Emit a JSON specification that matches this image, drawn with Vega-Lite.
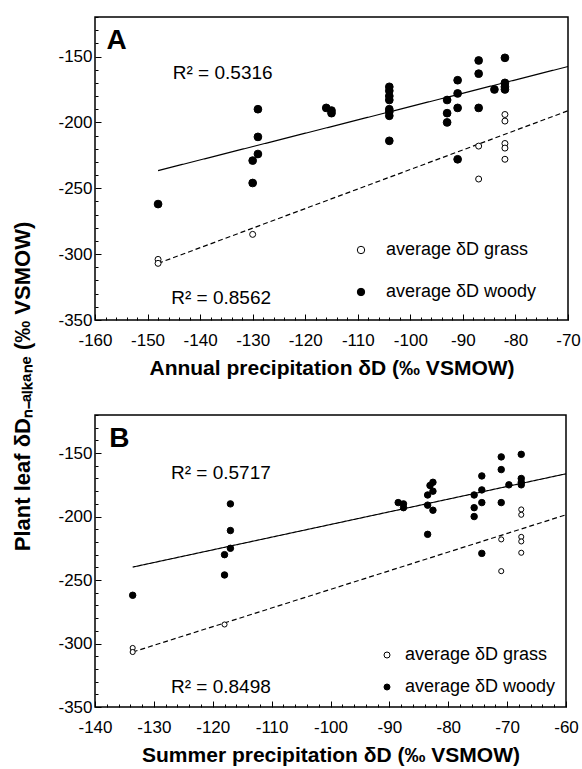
{
  "$schema": "https://vega.github.io/schema/vega-lite/v6.json",
  "padding": {"left": 12, "top": 7, "right": 4, "bottom": 2},
  "title": {"text": "Plant leaf δDₙ₋ₐₗₖₐₙₑ (‰ VSMOW)", "orient": "left", "anchor": "middle", "font": "Liberation Sans", "fontSize": 22, "fontWeight": "bold", "color": "black", "offset": 22},
  "datasets": {
    "points": [
      {"panel": "A", "type": "average δD woody", "x": -148, "y": -262},
      {"panel": "A", "type": "average δD woody", "x": -129, "y": -190},
      {"panel": "A", "type": "average δD woody", "x": -129, "y": -211},
      {"panel": "A", "type": "average δD woody", "x": -129, "y": -224},
      {"panel": "A", "type": "average δD woody", "x": -130, "y": -229},
      {"panel": "A", "type": "average δD woody", "x": -130, "y": -246},
      {"panel": "A", "type": "average δD woody", "x": -116, "y": -189},
      {"panel": "A", "type": "average δD woody", "x": -115, "y": -191},
      {"panel": "A", "type": "average δD woody", "x": -115, "y": -193},
      {"panel": "A", "type": "average δD woody", "x": -104, "y": -173},
      {"panel": "A", "type": "average δD woody", "x": -104, "y": -176},
      {"panel": "A", "type": "average δD woody", "x": -104, "y": -180},
      {"panel": "A", "type": "average δD woody", "x": -104, "y": -183},
      {"panel": "A", "type": "average δD woody", "x": -104, "y": -190},
      {"panel": "A", "type": "average δD woody", "x": -104, "y": -192},
      {"panel": "A", "type": "average δD woody", "x": -104, "y": -195},
      {"panel": "A", "type": "average δD woody", "x": -104, "y": -214},
      {"panel": "A", "type": "average δD woody", "x": -93, "y": -183},
      {"panel": "A", "type": "average δD woody", "x": -93, "y": -193},
      {"panel": "A", "type": "average δD woody", "x": -93, "y": -200},
      {"panel": "A", "type": "average δD woody", "x": -91, "y": -168},
      {"panel": "A", "type": "average δD woody", "x": -91, "y": -178},
      {"panel": "A", "type": "average δD woody", "x": -91, "y": -189},
      {"panel": "A", "type": "average δD woody", "x": -91, "y": -228},
      {"panel": "A", "type": "average δD woody", "x": -87, "y": -153},
      {"panel": "A", "type": "average δD woody", "x": -87, "y": -163},
      {"panel": "A", "type": "average δD woody", "x": -87, "y": -189},
      {"panel": "A", "type": "average δD woody", "x": -84, "y": -175},
      {"panel": "A", "type": "average δD woody", "x": -82, "y": -151},
      {"panel": "A", "type": "average δD woody", "x": -82, "y": -170},
      {"panel": "A", "type": "average δD woody", "x": -82, "y": -173},
      {"panel": "A", "type": "average δD woody", "x": -82, "y": -175},
      {"panel": "A", "type": "average δD grass", "x": -148, "y": -304},
      {"panel": "A", "type": "average δD grass", "x": -148, "y": -307},
      {"panel": "A", "type": "average δD grass", "x": -130, "y": -285},
      {"panel": "A", "type": "average δD grass", "x": -87, "y": -218},
      {"panel": "A", "type": "average δD grass", "x": -87, "y": -243},
      {"panel": "A", "type": "average δD grass", "x": -82, "y": -194},
      {"panel": "A", "type": "average δD grass", "x": -82, "y": -199},
      {"panel": "A", "type": "average δD grass", "x": -82, "y": -216},
      {"panel": "A", "type": "average δD grass", "x": -82, "y": -219.5},
      {"panel": "A", "type": "average δD grass", "x": -82, "y": -228},
      {"panel": "B", "type": "average δD woody", "x": -133.6, "y": -262},
      {"panel": "B", "type": "average δD woody", "x": -117, "y": -190},
      {"panel": "B", "type": "average δD woody", "x": -117, "y": -211},
      {"panel": "B", "type": "average δD woody", "x": -117, "y": -225},
      {"panel": "B", "type": "average δD woody", "x": -118, "y": -230},
      {"panel": "B", "type": "average δD woody", "x": -118, "y": -246},
      {"panel": "B", "type": "average δD woody", "x": -88.5, "y": -189},
      {"panel": "B", "type": "average δD woody", "x": -87.6, "y": -190},
      {"panel": "B", "type": "average δD woody", "x": -87.6, "y": -193},
      {"panel": "B", "type": "average δD woody", "x": -83.5, "y": -183},
      {"panel": "B", "type": "average δD woody", "x": -83.5, "y": -191},
      {"panel": "B", "type": "average δD woody", "x": -83.5, "y": -214},
      {"panel": "B", "type": "average δD woody", "x": -83.1, "y": -175.5},
      {"panel": "B", "type": "average δD woody", "x": -82.6, "y": -173},
      {"panel": "B", "type": "average δD woody", "x": -82.6, "y": -180},
      {"panel": "B", "type": "average δD woody", "x": -82.6, "y": -195},
      {"panel": "B", "type": "average δD woody", "x": -75.6, "y": -183},
      {"panel": "B", "type": "average δD woody", "x": -75.6, "y": -193},
      {"panel": "B", "type": "average δD woody", "x": -75.6, "y": -200},
      {"panel": "B", "type": "average δD woody", "x": -74.3, "y": -168},
      {"panel": "B", "type": "average δD woody", "x": -74.3, "y": -179},
      {"panel": "B", "type": "average δD woody", "x": -74.3, "y": -189},
      {"panel": "B", "type": "average δD woody", "x": -74.3, "y": -229},
      {"panel": "B", "type": "average δD woody", "x": -71, "y": -153},
      {"panel": "B", "type": "average δD woody", "x": -71, "y": -163},
      {"panel": "B", "type": "average δD woody", "x": -71, "y": -189},
      {"panel": "B", "type": "average δD woody", "x": -69.7, "y": -175},
      {"panel": "B", "type": "average δD woody", "x": -67.6, "y": -151},
      {"panel": "B", "type": "average δD woody", "x": -67.6, "y": -170},
      {"panel": "B", "type": "average δD woody", "x": -67.6, "y": -173},
      {"panel": "B", "type": "average δD woody", "x": -67.6, "y": -175},
      {"panel": "B", "type": "average δD grass", "x": -133.6, "y": -303.5},
      {"panel": "B", "type": "average δD grass", "x": -133.6, "y": -306.7},
      {"panel": "B", "type": "average δD grass", "x": -118, "y": -285},
      {"panel": "B", "type": "average δD grass", "x": -71, "y": -218},
      {"panel": "B", "type": "average δD grass", "x": -71, "y": -243},
      {"panel": "B", "type": "average δD grass", "x": -67.6, "y": -194.4},
      {"panel": "B", "type": "average δD grass", "x": -67.6, "y": -198.6},
      {"panel": "B", "type": "average δD grass", "x": -67.6, "y": -216},
      {"panel": "B", "type": "average δD grass", "x": -67.6, "y": -219.6},
      {"panel": "B", "type": "average δD grass", "x": -67.6, "y": -228.5}
    ],
    "lines": [
      {"panel": "A", "kind": "woody", "x": -148, "y": -236.6},
      {"panel": "A", "kind": "woody", "x": -70, "y": -157.6},
      {"panel": "A", "kind": "grass", "x": -148, "y": -307},
      {"panel": "A", "kind": "grass", "x": -70, "y": -191.2},
      {"panel": "B", "kind": "woody", "x": -133.6, "y": -239.8},
      {"panel": "B", "kind": "woody", "x": -60, "y": -166.3},
      {"panel": "B", "kind": "grass", "x": -133.6, "y": -306.7},
      {"panel": "B", "kind": "grass", "x": -60, "y": -198.6}
    ],
    "labels": [
      {"panel": "A", "kind": "letter", "label": "A", "x": -157.8, "y": -138.4},
      {"panel": "A", "kind": "r2", "label": "R² = 0.5316", "x": -145.2, "y": -162.6},
      {"panel": "A", "kind": "r2", "label": "R² = 0.8562", "x": -145.5, "y": -333.3},
      {"panel": "B", "kind": "letter", "label": "B", "x": -137.6, "y": -139},
      {"panel": "B", "kind": "r2", "label": "R² = 0.5717", "x": -127.1, "y": -165.7},
      {"panel": "B", "kind": "r2", "label": "R² = 0.8498", "x": -127.1, "y": -334}
    ]
  },
  "vconcat": [
    {
      "width": 473,
      "height": 303,
      "encoding": {
        "x": {"field": "x", "type": "quantitative", "scale": {"domain": [-160, -70], "nice": false, "zero": false},
          "axis": {"title": "Annual precipitation δD (‰ VSMOW)", "values": [-160,-158,-156,-154,-152,-150,-148,-146,-144,-142,-140,-138,-136,-134,-132,-130,-128,-126,-124,-122,-120,-118,-116,-114,-112,-110,-108,-106,-104,-102,-100,-98,-96,-94,-92,-90,-88,-86,-84,-82,-80,-78,-76,-74,-72,-70],
            "labelExpr": "datum.value % 10 === 0 ? toString(datum.value) : ''", "tickSize": {"expr": "datum.value % 10 === 0 ? -6 : -3"}, "labelPadding": 18, "labelOverlap": false, "labelFlush": false, "labelBound": false}},
        "y": {"field": "y", "type": "quantitative", "scale": {"domain": [-350, -120], "nice": false, "zero": false},
          "axis": {"title": null, "values": [-350,-340,-330,-320,-310,-300,-290,-280,-270,-260,-250,-240,-230,-220,-210,-200,-190,-180,-170,-160,-150,-140,-130,-120],
            "labelExpr": "datum.value % 50 === 0 ? toString(datum.value) : ''", "tickSize": {"expr": "datum.value % 50 === 0 ? -6 : -3"}, "labelPadding": 9, "labelOverlap": false, "labelFlush": false, "labelBound": false}}
      },
      "layer": [
        {
          "data": {"name": "lines"},
          "transform": [{"filter": "datum.panel === 'A'"}],
          "mark": {"type": "line", "color": "black", "strokeWidth": 1.2},
          "encoding": {
            "detail": {"field": "kind", "type": "nominal"},
            "strokeDash": {"field": "kind", "type": "nominal", "scale": {"domain": ["grass", "woody"], "range": [[5, 3], [1, 0]]}, "legend": null}
          }
        },
        {
          "data": {"name": "points"},
          "transform": [{"filter": "datum.panel === 'A'"}],
          "mark": {"type": "circle", "stroke": "black", "strokeWidth": 1, "opacity": 1},
          "encoding": {
            "fill": {"field": "type", "type": "nominal", "scale": {"domain": ["average δD grass", "average δD woody"], "range": ["white", "black"]},
              "legend": {"orient": "none", "legendX": 257, "legendY": 224, "title": null, "labelFont": "Liberation Sans", "labelFontSize": 18, "labelColor": "black", "symbolType": "circle", "symbolSize": 55, "symbolStrokeColor": "black", "symbolStrokeWidth": 1, "rowPadding": 24, "labelOffset": 16}},
            "size": {"condition": {"test": "datum.type === 'average δD woody'", "value": 60}, "value": 36}
          }
        },
        {
          "data": {"name": "labels"},
          "transform": [{"filter": "datum.panel === 'A' && datum.kind === 'r2'"}],
          "mark": {"type": "text", "align": "left", "baseline": "middle", "font": "Liberation Sans", "fontSize": 19, "color": "black"},
          "encoding": {"text": {"field": "label", "type": "nominal"}}
        },
        {
          "data": {"name": "labels"},
          "transform": [{"filter": "datum.panel === 'A' && datum.kind === 'letter'"}],
          "mark": {"type": "text", "align": "left", "baseline": "middle", "font": "Liberation Sans", "fontSize": 28, "fontWeight": "bold", "color": "black"},
          "encoding": {"text": {"field": "label", "type": "nominal"}}
        }
      ]
    },
    {
      "width": 471,
      "height": 292,
      "encoding": {
        "x": {"field": "x", "type": "quantitative", "scale": {"domain": [-140, -60], "nice": false, "zero": false},
          "axis": {"title": "Summer precipitation δD (‰ VSMOW)", "values": [-140,-138,-136,-134,-132,-130,-128,-126,-124,-122,-120,-118,-116,-114,-112,-110,-108,-106,-104,-102,-100,-98,-96,-94,-92,-90,-88,-86,-84,-82,-80,-78,-76,-74,-72,-70,-68,-66,-64,-62,-60],
            "labelExpr": "datum.value % 10 === 0 ? toString(datum.value) : ''", "tickSize": {"expr": "datum.value % 10 === 0 ? -6 : -3"}, "labelPadding": 18, "labelOverlap": false, "labelFlush": false, "labelBound": false}},
        "y": {"field": "y", "type": "quantitative", "scale": {"domain": [-350, -120], "nice": false, "zero": false},
          "axis": {"title": null, "values": [-350,-340,-330,-320,-310,-300,-290,-280,-270,-260,-250,-240,-230,-220,-210,-200,-190,-180,-170,-160,-150,-140,-130,-120],
            "labelExpr": "datum.value % 50 === 0 ? toString(datum.value) : ''", "tickSize": {"expr": "datum.value % 50 === 0 ? -6 : -3"}, "labelPadding": 9, "labelOverlap": false, "labelFlush": false, "labelBound": false}}
      },
      "layer": [
        {
          "data": {"name": "lines"},
          "transform": [{"filter": "datum.panel === 'B'"}],
          "mark": {"type": "line", "color": "black", "strokeWidth": 1.2},
          "encoding": {
            "detail": {"field": "kind", "type": "nominal"},
            "strokeDash": {"field": "kind", "type": "nominal", "scale": {"domain": ["grass", "woody"], "range": [[5, 3], [1, 0]]}, "legend": null}
          }
        },
        {
          "data": {"name": "points"},
          "transform": [{"filter": "datum.panel === 'B'"}],
          "mark": {"type": "circle", "stroke": "black", "strokeWidth": 1, "opacity": 1},
          "encoding": {
            "fill": {"field": "type", "type": "nominal", "scale": {"domain": ["average δD grass", "average δD woody"], "range": ["white", "black"]},
              "legend": {"orient": "none", "legendX": 283, "legendY": 231, "title": null, "labelFont": "Liberation Sans", "labelFontSize": 18, "labelColor": "black", "symbolType": "circle", "symbolSize": 36, "symbolStrokeColor": "black", "symbolStrokeWidth": 1, "rowPadding": 14, "labelOffset": 9}},
            "size": {"condition": {"test": "datum.type === 'average δD woody'", "value": 42}, "value": 26}
          }
        },
        {
          "data": {"name": "labels"},
          "transform": [{"filter": "datum.panel === 'B' && datum.kind === 'r2'"}],
          "mark": {"type": "text", "align": "left", "baseline": "middle", "font": "Liberation Sans", "fontSize": 19, "color": "black"},
          "encoding": {"text": {"field": "label", "type": "nominal"}}
        },
        {
          "data": {"name": "labels"},
          "transform": [{"filter": "datum.panel === 'B' && datum.kind === 'letter'"}],
          "mark": {"type": "text", "align": "left", "baseline": "middle", "font": "Liberation Sans", "fontSize": 28, "fontWeight": "bold", "color": "black"},
          "encoding": {"text": {"field": "label", "type": "nominal"}}
        }
      ]
    }
  ],
  "spacing": 26,
  "resolve": {"scale": {"fill": "independent"}, "legend": {"fill": "independent"}},
  "config": {
    "view": {"stroke": "black", "strokeWidth": 1.5},
    "axis": {"labelFont": "Liberation Sans", "labelFontSize": 17, "labelColor": "black", "titleFont": "Liberation Sans", "titleFontSize": 21, "titleFontWeight": "bold", "titleColor": "black", "tickColor": "black", "tickWidth": 1, "grid": false, "domain": false, "titlePadding": 6}
  }
}
